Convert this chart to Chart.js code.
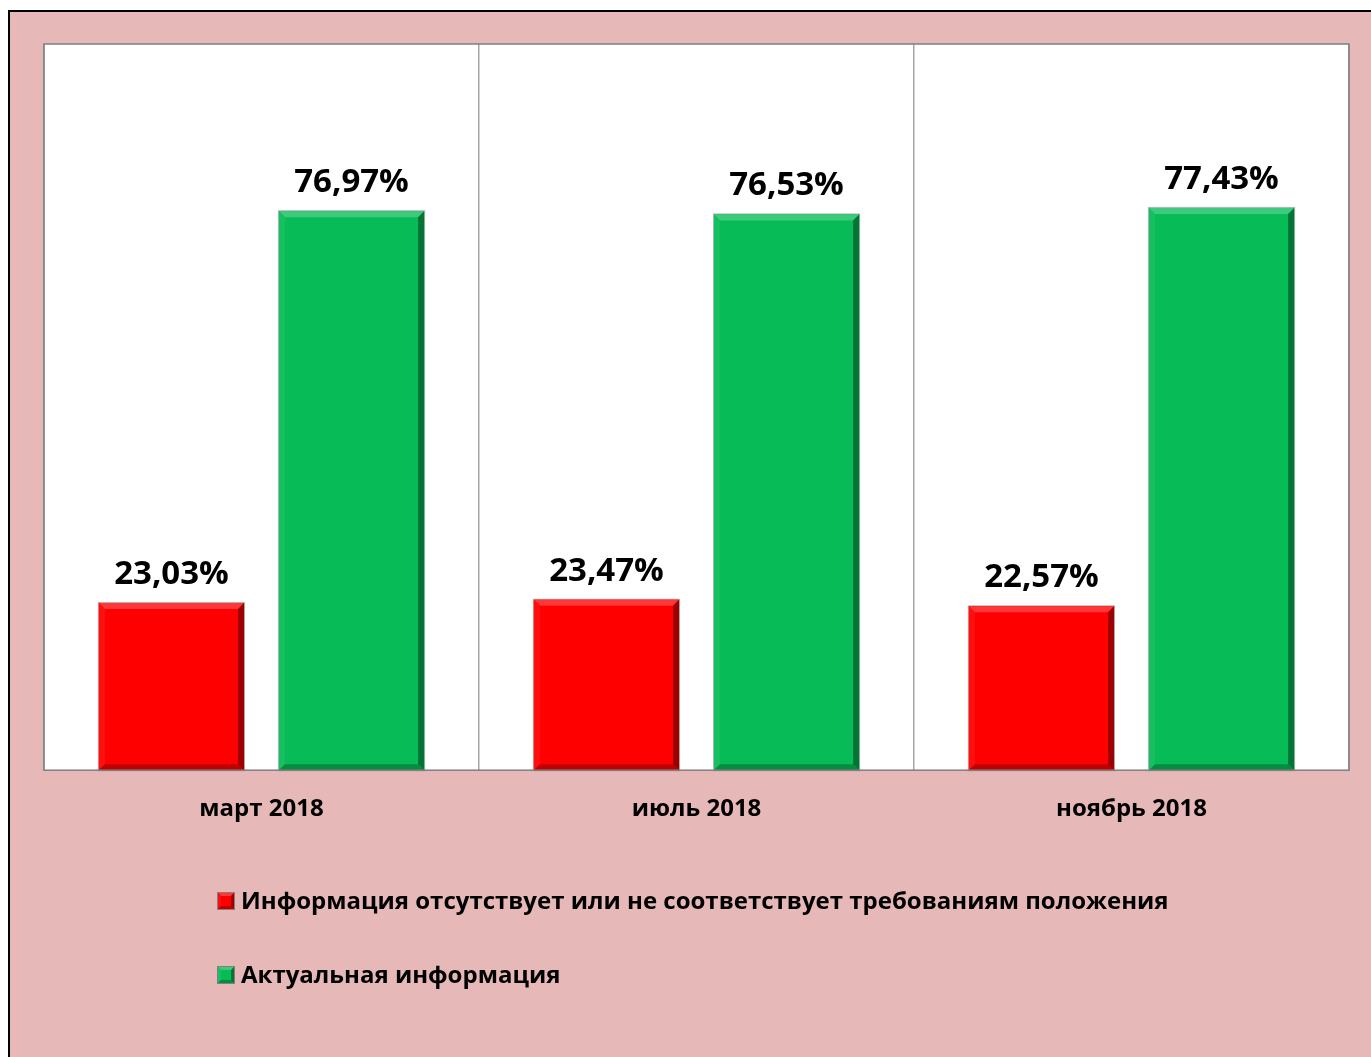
<!DOCTYPE html>
<html>
<head>
<meta charset="utf-8">
<script src="https://cdn.jsdelivr.net/npm/chart.js@4/dist/chart.umd.min.js"></script>
<style>
  html, body { margin: 0; padding: 0; background: #ffffff; }
  #wrap { width: 1371px; height: 1057px; }
</style>
</head>
<body>
<div id="wrap"><canvas id="c" width="1371" height="1057"></canvas></div>
<script>
const categories = ['март 2018', 'июль 2018', 'ноябрь 2018'];
const seriesNames = ['Информация отсутствует или не соответствует требованиям положения', 'Актуальная информация'];
const missingValues = [23.03, 23.47, 22.57];
const actualValues = [76.97, 76.53, 77.43];

const FONT = '"Open Sans", "Noto Sans", "DejaVu Sans", sans-serif';
const PINK = '#E6B8B7';
const RED = '#FE0000';
const GREEN = '#07BB57';

const pageBg = {
  id: 'pageBg',
  beforeDraw(chart) {
    const ctx = chart.ctx;
    ctx.save();
    ctx.fillStyle = '#ffffff';
    ctx.fillRect(0, 0, chart.width, chart.height);
    ctx.fillStyle = PINK;
    ctx.fillRect(10, 12, chart.width - 10, chart.height - 12);
    ctx.fillStyle = '#000000';
    ctx.fillRect(8, 10, chart.width - 8, 2);
    ctx.fillRect(8, 10, 2, chart.height - 10);
    const a = chart.chartArea;
    ctx.fillStyle = '#ffffff';
    ctx.fillRect(a.left, a.top, a.right - a.left, a.bottom - a.top);
    ctx.restore();
  },
  afterDraw(chart) {
    const ctx = chart.ctx;
    const a = chart.chartArea;
    ctx.save();
    ctx.strokeStyle = '#7F7F7F';
    ctx.lineWidth = 1.5;
    ctx.strokeRect(a.left, a.top, a.right - a.left, a.bottom - a.top);
    ctx.restore();
  }
};

function shade(hex, f) {
  const n = parseInt(hex.slice(1), 16);
  let r = (n >> 16) & 255, g = (n >> 8) & 255, b = n & 255;
  if (f >= 0) { r += (255 - r) * f; g += (255 - g) * f; b += (255 - b) * f; }
  else { r *= 1 + f; g *= 1 + f; b *= 1 + f; }
  return 'rgb(' + Math.round(r) + ',' + Math.round(g) + ',' + Math.round(b) + ')';
}

function bevelRect(ctx, l, t, r, b, color, bv) {
  ctx.fillStyle = color;
  ctx.fillRect(l, t, r - l, b - t);
  ctx.fillStyle = shade(color, 0.22);
  ctx.beginPath(); ctx.moveTo(l, t); ctx.lineTo(r, t); ctx.lineTo(r - bv, t + bv); ctx.lineTo(l + bv, t + bv); ctx.closePath(); ctx.fill();
  ctx.fillStyle = shade(color, 0.06);
  ctx.beginPath(); ctx.moveTo(l, t); ctx.lineTo(l + bv, t + bv); ctx.lineTo(l + bv, b - bv); ctx.lineTo(l, b); ctx.closePath(); ctx.fill();
  ctx.fillStyle = shade(color, -0.38);
  ctx.beginPath(); ctx.moveTo(r, t); ctx.lineTo(r, b); ctx.lineTo(r - bv, b - bv); ctx.lineTo(r - bv, t + bv); ctx.closePath(); ctx.fill();
  ctx.fillStyle = shade(color, -0.25);
  ctx.beginPath(); ctx.moveTo(l, b); ctx.lineTo(r, b); ctx.lineTo(r - bv, b - bv); ctx.lineTo(l + bv, b - bv); ctx.closePath(); ctx.fill();
}

const barDecor = {
  id: 'barDecor',
  afterDatasetsDraw(chart) {
    const ctx = chart.ctx;
    ctx.save();
    chart.data.datasets.forEach((ds, di) => {
      const meta = chart.getDatasetMeta(di);
      meta.data.forEach((bar, i) => {
        const l = bar.x - bar.width / 2, r = bar.x + bar.width / 2;
        const t = bar.y, b = bar.base;
        ctx.strokeStyle = 'rgba(120,120,120,0.55)';
        ctx.lineWidth = 1;
        ctx.strokeRect(l - 0.5, t - 0.5, r - l + 1, b - t + 1);
        bevelRect(ctx, l, t, r, b, ds.backgroundColor, 6);
        ctx.fillStyle = '#000000';
        ctx.font = 'bold 33px ' + FONT;
        ctx.textAlign = 'center';
        ctx.textBaseline = 'alphabetic';
        const txt = ds.data[i].toFixed(2).replace('.', ',') + '%';
        ctx.fillText(txt, bar.x, t - 19);
      });
    });
    ctx.restore();
  }
};

const customLegend = {
  id: 'customLegend',
  afterDraw(chart) {
    const ctx = chart.ctx;
    ctx.save();
    const rows = [901, 975];
    chart.data.datasets.forEach((ds, di) => {
      const cy = rows[di];
      ctx.strokeStyle = 'rgba(110,110,110,0.8)';
      ctx.lineWidth = 1;
      ctx.strokeRect(217.5, cy - 8.5, 17, 17);
      bevelRect(ctx, 218, cy - 8, 234, cy + 8, ds.backgroundColor, 3);
      ctx.fillStyle = '#000000';
      ctx.font = 'bold 24px ' + FONT;
      ctx.textAlign = 'left';
      ctx.textBaseline = 'middle';
      ctx.fillText(ds.label, 241, cy + 1);
    });
    ctx.restore();
  }
};

new Chart(document.getElementById('c'), {
  type: 'bar',
  data: {
    labels: categories,
    datasets: [
      { label: seriesNames[0], data: missingValues, backgroundColor: RED },
      { label: seriesNames[1], data: actualValues, backgroundColor: GREEN }
    ]
  },
  options: {
    responsive: false,
    animation: false,
    devicePixelRatio: 1,
    categoryPercentage: 0.828,
    barPercentage: 0.806,
    layout: { padding: { left: 44, top: 44, right: 22, bottom: 208 } },
    plugins: {
      legend: { display: false },
      tooltip: { enabled: false }
    },
    scales: {
      y: { display: false, min: 0, max: 100 },
      x: {
        border: { display: false },
        grid: { color: '#A6A6A6', lineWidth: 1.5, drawTicks: false, offset: true },
        ticks: { color: '#000000', padding: 25, font: { family: FONT, size: 24, weight: 'bold' } }
      }
    }
  },
  plugins: [pageBg, barDecor, customLegend]
});
</script>
</body>
</html>
